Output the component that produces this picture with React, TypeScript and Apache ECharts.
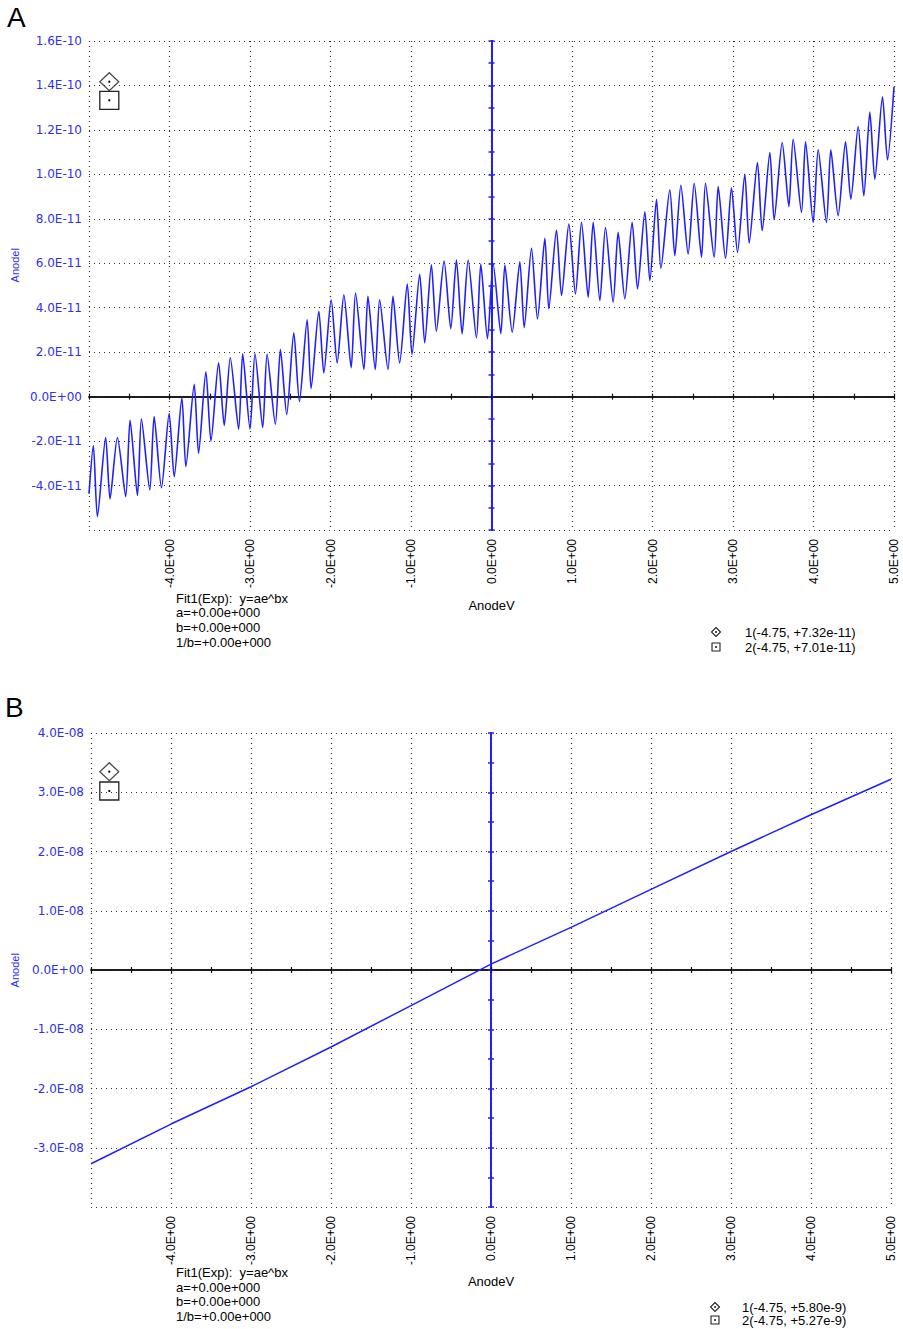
import React, { useEffect, useRef } from "react";
import * as echarts from "echarts";

// ---------- Panel A data (AnodeV in V, AnodeI in units of 1e-11 A) ----------
const UNIT_A = 1e-11;
const anodeV_A = [
  -5.0, -4.946, -4.896, -4.793, -4.739, -4.647, -4.544, -4.49, -4.398, -4.349,
  -4.245, -4.191, -4.1, -4.004, -3.942, -3.846, -3.797, -3.693, -3.639, -3.548,
  -3.485, -3.39, -3.32, -3.245, -3.141, -3.091, -3.0, -2.938, -2.842, -2.788,
  -2.685, -2.622, -2.544, -2.456, -2.386, -2.29, -2.241, -2.145, -2.083, -1.992,
  -1.917, -1.834, -1.743, -1.689, -1.585, -1.535, -1.444, -1.39, -1.286, -1.224,
  -1.141, -1.046, -0.988, -0.892, -0.83, -0.747, -0.685, -0.589, -0.506, -0.436,
  -0.365, -0.29, -0.187, -0.133, -0.05,
  0.021, 0.116, 0.166, 0.257, 0.352, 0.406, 0.497, 0.571, 0.663, 0.712,
  0.807, 0.87, 0.961, 1.043, 1.118, 1.201, 1.263, 1.346, 1.416, 1.511,
  1.573, 1.656, 1.747, 1.814, 1.905, 1.967, 2.05, 2.104, 2.215, 2.277,
  2.352, 2.443, 2.518, 2.609, 2.658, 2.766, 2.816, 2.907, 2.981, 3.056,
  3.147, 3.201, 3.304, 3.362, 3.458, 3.511, 3.611, 3.694, 3.747, 3.851,
  3.901, 3.996, 4.058, 4.161, 4.215, 4.306, 4.398, 4.464, 4.555, 4.625,
  4.7, 4.762, 4.857, 4.919, 5.0,
];
const anodeI_A = [
  -4.37, -2.2, -5.4, -1.84, -4.6, -1.84, -4.5, -1.06, -4.45, -1.0,
  -4.2, -0.9, -4.1, -0.76, -3.6, -0.05, -3.15, 0.55, -2.55, 1.12,
  -2.0, 1.52, -1.3, 1.75, -1.46, 1.93, -1.46, 1.93, -1.39, 1.9,
  -1.24, 2.12, -0.8, 2.87, -0.22, 3.46, 0.37, 3.84, 1.07, 4.36,
  1.52, 4.58, 1.3, 4.66, 1.22, 4.51, 1.22, 4.36, 1.22, 4.51,
  1.52, 5.06, 1.9, 5.5, 2.42, 5.93, 2.94, 6.1, 3.06, 6.15,
  2.82, 6.15, 2.64, 5.96, 2.61,
  5.97, 2.83, 5.92, 2.9, 6.07, 3.1, 6.67, 3.5, 7.12, 3.95,
  7.5, 4.55, 7.76, 4.62, 7.84, 4.47, 7.84, 4.32, 7.61, 4.25,
  7.39, 4.4, 7.84, 4.85, 8.32, 5.22, 8.88, 5.77, 9.3, 6.34,
  9.51, 6.42, 9.6, 6.27, 9.6, 6.27, 9.45, 6.22, 9.4, 6.49,
  10.0, 6.91, 10.53, 7.46, 10.98, 7.96, 11.43, 8.55, 11.58, 8.29,
  11.46, 7.84, 11.1, 7.84, 11.1, 8.14, 11.46, 8.88, 12.15, 9.03,
  12.8, 9.78, 13.49, 10.65, 13.94,
];

// ---------- Panel B data (AnodeV in V, AnodeI in units of 1e-8 A) ----------
const UNIT_B = 1e-8;
const anodeV_B = [-5, -4, -3, -2, -1, 0, 1, 2, 3, 4, 5];
const anodeI_B = [-3.27, -2.6, -1.97, -1.3, -0.6, 0.1, 0.72, 1.36, 2.0, 2.62, 3.22];

// ---------- Axis ranges ----------
const xRange = { min: -5, max: 5, interval: 1, minor: 0.5 };
const yRangeA = { min: -6e-11, max: 1.6e-10, interval: 2e-11, minor: 1e-11 };
const yRangeB = { min: -4e-8, max: 4e-8, interval: 1e-8, minor: 0.5e-8 };

// ---------- Texts ----------
const xName = "AnodeV";
const yName = "AnodeI";
const fitLines = ["Fit1(Exp):  y=ae^bx", "a=+0.00e+000", "b=+0.00e+000", "1/b=+0.00e+000"];
const cursorsA = ["1(-4.75, +7.32e-11)", "2(-4.75, +7.01e-11)"];
const cursorsB = ["1(-4.75, +5.80e-9)", "2(-4.75, +5.27e-9)"];

const FONT = "Arial, 'Liberation Sans', sans-serif";
const BLUE_TXT = "#2f2ff0";
const BLUE_LINE = "#1f1fff";
const DOT = "#333";

function sci(v: number): string {
  if (Math.abs(v) < 1e-20) return "0.0E+00";
  const s = v.toExponential(1);
  const [m, e] = s.split("e");
  const sign = e[0] === "-" ? "-" : "+";
  const digits = e.replace(/^[+-]/, "").padStart(2, "0");
  return `${m}E${sign}${digits}`;
}

function panelAxes(gi: number, xBase: number, yBase: number, yr: any, nameGapX: number) {
  const xAxes = [
    {
      gridIndex: gi, type: "value", min: xRange.min, max: xRange.max, interval: xRange.interval,
      position: "bottom", name: xName, nameLocation: "middle", nameGap: nameGapX,
      nameTextStyle: { color: "#000", fontSize: 13, fontFamily: FONT },
      axisLine: { show: false, onZero: false }, axisTick: { show: false },
      axisLabel: { rotate: 90, margin: 9, fontSize: 12, color: "#000", fontFamily: FONT, formatter: sci, showMinLabel: false },
      splitLine: { show: true, lineStyle: { type: [1, 4], color: DOT, width: 1.2 } },
    },
    {
      gridIndex: gi, type: "value", min: xRange.min, max: xRange.max, interval: xRange.minor, position: "bottom",
      axisLine: { show: true, onZero: true, onZeroAxisIndex: yBase, lineStyle: { color: "#111", width: 1.5 } },
      axisTick: { show: true, length: 3, lineStyle: { color: "#111", width: 1.2 } },
      axisLabel: { show: false }, splitLine: { show: false },
    },
    {
      gridIndex: gi, type: "value", min: xRange.min, max: xRange.max, interval: xRange.minor, position: "bottom",
      axisLine: { show: true, onZero: true, onZeroAxisIndex: yBase, lineStyle: { color: "#111", width: 1.5 } },
      axisTick: { show: true, inside: true, length: 3, lineStyle: { color: "#111", width: 1.2 } },
      axisLabel: { show: false }, splitLine: { show: false },
    },
  ];
  const yAxes = [
    {
      gridIndex: gi, type: "value", min: yr.min, max: yr.max, interval: yr.interval, position: "left",
      axisLine: { show: false, onZero: false }, axisTick: { show: false },
      axisLabel: { margin: 7, fontSize: 12, color: BLUE_TXT, fontFamily: "'DejaVu Sans', sans-serif", formatter: sci, showMinLabel: false },
      splitLine: { show: true, lineStyle: { type: [1, 4], color: DOT, width: 1.2 } },
    },
    {
      gridIndex: gi, type: "value", min: yr.min, max: yr.max, interval: yr.minor, position: "left",
      axisLine: { show: true, onZero: true, onZeroAxisIndex: xBase, lineStyle: { color: BLUE_LINE, width: 2 } },
      axisTick: { show: true, length: 3, lineStyle: { color: BLUE_LINE, width: 1.5 } },
      axisLabel: { show: false }, splitLine: { show: false },
    },
    {
      gridIndex: gi, type: "value", min: yr.min, max: yr.max, interval: yr.minor, position: "left",
      axisLine: { show: true, onZero: true, onZeroAxisIndex: xBase, lineStyle: { color: BLUE_LINE, width: 2 } },
      axisTick: { show: true, inside: true, length: 3, lineStyle: { color: BLUE_LINE, width: 1.5 } },
      axisLabel: { show: false }, splitLine: { show: false },
    },
  ];
  return { xAxes, yAxes };
}

function cursorIcons(cx: number, cy: number, sqTop: number) {
  return [
    { type: "polygon", shape: { points: [[cx, cy - 9], [cx + 9.5, cy], [cx, cy + 9], [cx - 9.5, cy]] }, style: { fill: "#fff", stroke: "#444", lineWidth: 1.2 } },
    { type: "circle", shape: { cx, cy, r: 1.1 }, style: { fill: "#000" } },
    { type: "rect", shape: { x: cx - 9.5, y: sqTop, width: 19, height: 18 }, style: { fill: "rgba(255,255,255,0)", stroke: "#222", lineWidth: 1.3 } },
    { type: "circle", shape: { cx, cy: sqTop + 9, r: 1.1 }, style: { fill: "#000" } },
  ];
}

function legendIcons(cx: number, y1: number, y2: number, texts: string[], tx: number) {
  return [
    { type: "polygon", shape: { points: [[cx, y1 - 4.5], [cx + 4.5, y1], [cx, y1 + 4.5], [cx - 4.5, y1]] }, style: { fill: "#fff", stroke: "#222", lineWidth: 1.1 } },
    { type: "circle", shape: { cx, cy: y1, r: 0.9 }, style: { fill: "#000" } },
    { type: "rect", shape: { x: cx - 4, y: y2 - 4, width: 8, height: 8 }, style: { fill: "#fff", stroke: "#222", lineWidth: 1.1 } },
    { type: "circle", shape: { cx, cy: y2, r: 0.9 }, style: { fill: "#000" } },
    { type: "text", x: tx, y: y1, style: { text: texts[0], fill: "#000", fontSize: 13, fontFamily: FONT, verticalAlign: "middle" } },
    { type: "text", x: tx, y: y2, style: { text: texts[1], fill: "#000", fontSize: 13, fontFamily: FONT, verticalAlign: "middle" } },
  ];
}

function fitText(x: number, ys: number[]) {
  return fitLines.map((t, i) => ({
    type: "text", x, y: ys[i], style: { text: t, fill: "#000", fontSize: 13, fontFamily: FONT, verticalAlign: "middle" },
  }));
}

function yNameText(x: number, y: number) {
  return {
    type: "text", x, y, rotation: Math.PI / 2,
    style: { text: yName, fill: BLUE_TXT, fontSize: 11, fontFamily: FONT, align: "center", verticalAlign: "middle" },
  };
}

export default function App() {
  const ref = useRef<HTMLDivElement>(null);
  useEffect(() => {
    if (!ref.current) return;
    const chart = echarts.init(ref.current, undefined, { renderer: "svg" });
    const a = panelAxes(0, 0, 0, yRangeA, 69);
    const b = panelAxes(1, 3, 3, yRangeB, 68);
    const dataA = anodeV_A.map((x, i) => [x, anodeI_A[i] * UNIT_A]);
    const dataB = anodeV_B.map((x, i) => [x, anodeI_B[i] * UNIT_B]);
    chart.setOption({
      animation: false,
      backgroundColor: "#fff",
      grid: [
        { left: 89, top: 41, width: 805, height: 489 },
        { left: 91, top: 733, width: 800, height: 474 },
      ],
      xAxis: [...a.xAxes, ...b.xAxes],
      yAxis: [...a.yAxes, ...b.yAxes],
      series: [
        {
          type: "line", xAxisIndex: 0, yAxisIndex: 0, data: dataA, showSymbol: false, silent: true,
          smooth: 0.25, lineStyle: { color: BLUE_LINE, width: 1.6 }, z: 3,
        },
        {
          type: "line", xAxisIndex: 3, yAxisIndex: 3, data: dataB, showSymbol: false, silent: true,
          lineStyle: { color: BLUE_LINE, width: 1.5 }, z: 3,
        },
      ],
      graphic: [
        { type: "text", x: 7, y: 17, style: { text: "A", fill: "#000", fontSize: 28, fontFamily: FONT, verticalAlign: "middle" } },
        { type: "text", x: 5, y: 707, style: { text: "B", fill: "#000", fontSize: 28, fontFamily: FONT, verticalAlign: "middle" } },
        yNameText(15, 265),
        yNameText(15, 970),
        ...cursorIcons(109.3, 81.7, 91.3),
        ...cursorIcons(109.3, 771.7, 782),
        ...fitText(176, [598, 612.5, 627, 642]),
        ...fitText(176, [1272.7, 1287, 1301.3, 1316]),
        ...legendIcons(716, 632, 647, cursorsA, 745),
        ...legendIcons(715, 1307, 1320, cursorsB, 742),
      ],
    });
    return () => chart.dispose();
  }, []);
  return <div ref={ref} style={{ position: "absolute", left: 0, top: 0, width: 903, height: 1329 }} />;
}
